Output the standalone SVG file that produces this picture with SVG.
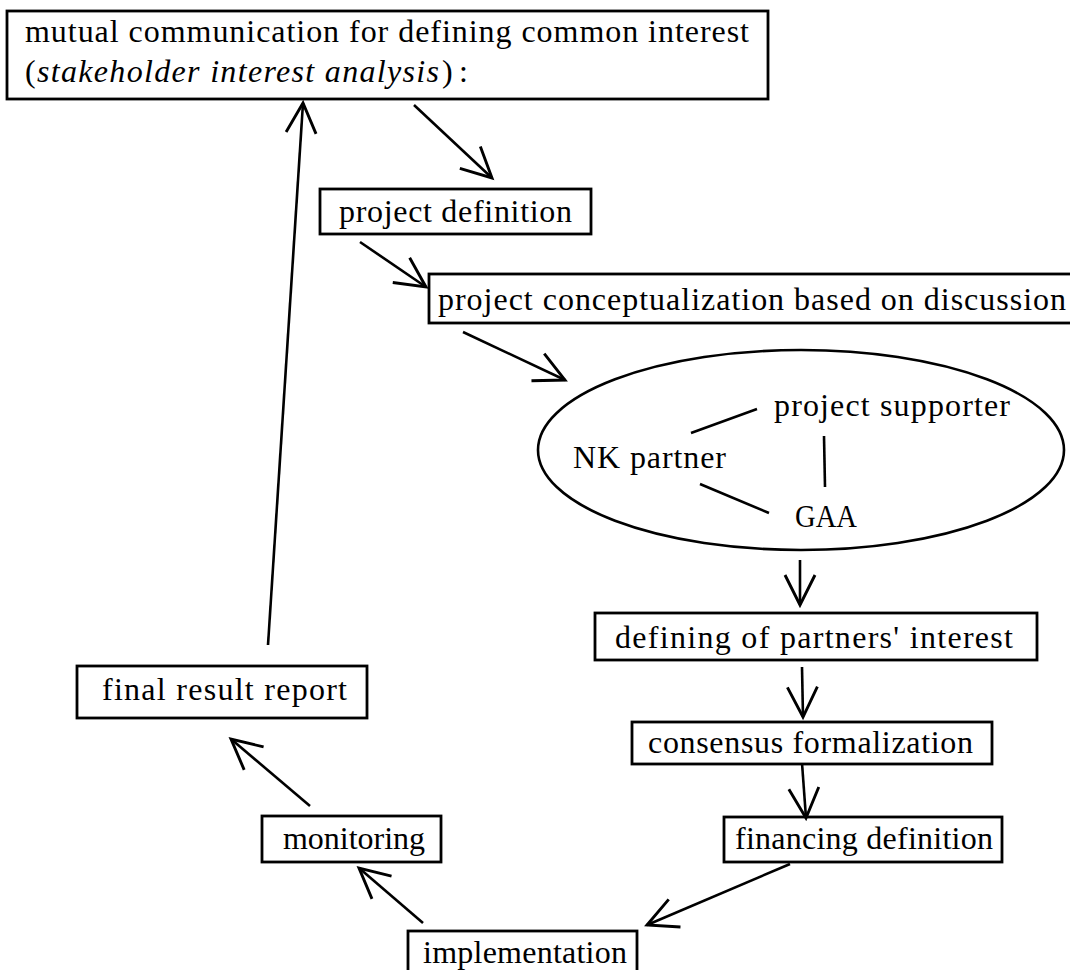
<svg xmlns="http://www.w3.org/2000/svg" width="1070" height="970" viewBox="0 0 1070 970">
<style>
.box{fill:#fff;stroke:#000;stroke-width:2.8}
.t{font-family:"Liberation Serif","Times New Roman",serif;font-size:32px;fill:#000}
.i{font-style:italic}
.c{fill:none;stroke:#000;stroke-width:2.6}
</style>
<defs>
<marker id="ah" markerUnits="userSpaceOnUse" markerWidth="40" markerHeight="40" viewBox="-32 -18 36 36" refX="0" refY="0" orient="auto">
<path d="M-27,-13.5 L0,0 L-27,13.5" fill="none" stroke="#000" stroke-width="2.6"/>
</marker>
</defs>
<rect width="1070" height="970" fill="#fff"/>
<g id="n-mutual">
<rect class="box" x="7" y="11" width="761" height="88"/>
<text class="t" x="25" y="42" textLength="724" lengthAdjust="spacing">mutual communication for defining common interest</text>
<text class="t" x="25" y="82">(</text>
<text class="t i" x="37" y="82" textLength="402" lengthAdjust="spacing">stakeholder interest analysis</text>
<text class="t" x="442" y="82">)</text>
<text class="t" x="459" y="82">:</text>
</g>
<g id="n-projdef">
<rect class="box" x="320" y="189" width="271" height="45"/>
<text class="t" x="339" y="222" textLength="233" lengthAdjust="spacing">project definition</text>
</g>
<g id="n-concept">
<rect class="box" x="429" y="274" width="660" height="49"/>
<text class="t" x="438" y="310" textLength="628" lengthAdjust="spacing">project conceptualization based on discussion</text>
</g>
<g id="n-stake">
<ellipse cx="801" cy="450" rx="263" ry="100" fill="#fff" stroke="#000" stroke-width="2.6"/>
<text class="t" x="774" y="416" textLength="236" lengthAdjust="spacing">project supporter</text>
<text class="t" x="573" y="468" textLength="153" lengthAdjust="spacing">NK partner</text>
<text class="t" x="795" y="527" textLength="62" lengthAdjust="spacingAndGlyphs">GAA</text>
<line class="c" x1="691" y1="433" x2="757" y2="409"/>
<line class="c" x1="824" y1="436" x2="825" y2="487"/>
<line class="c" x1="700" y1="484" x2="769" y2="513"/>
</g>
<g id="n-defining">
<rect class="box" x="595" y="613" width="442" height="47"/>
<text class="t" x="615" y="648" textLength="398" lengthAdjust="spacing">defining of partners' interest</text>
</g>
<g id="n-consensus">
<rect class="box" x="632" y="722" width="360" height="42"/>
<text class="t" x="648" y="753" textLength="325" lengthAdjust="spacing">consensus formalization</text>
</g>
<g id="n-financing">
<rect class="box" x="724" y="817" width="278" height="45"/>
<text class="t" x="735" y="849" textLength="258" lengthAdjust="spacing">financing definition</text>
</g>
<g id="n-impl">
<rect class="box" x="408" y="931" width="229" height="60"/>
<text class="t" x="423" y="963" textLength="204" lengthAdjust="spacing">implementation</text>
</g>
<g id="n-monitor">
<rect class="box" x="262" y="816" width="179" height="46"/>
<text class="t" x="283" y="849" textLength="142" lengthAdjust="spacing">monitoring</text>
</g>
<g id="n-final">
<rect class="box" x="77" y="666" width="290" height="52"/>
<text class="t" x="102" y="700" textLength="245" lengthAdjust="spacing">final result report</text>
</g>
<g id="connectors">
<line class="c" x1="414" y1="105" x2="492" y2="178" marker-end="url(#ah)"/>
<line class="c" x1="360" y1="242" x2="426" y2="287" marker-end="url(#ah)"/>
<line class="c" x1="463" y1="332" x2="565" y2="380" marker-end="url(#ah)"/>
<line class="c" x1="800" y1="560" x2="800" y2="605" marker-end="url(#ah)"/>
<line class="c" x1="802" y1="667" x2="803" y2="717" marker-end="url(#ah)"/>
<line class="c" x1="802" y1="763" x2="806" y2="818" marker-end="url(#ah)"/>
<line class="c" x1="790" y1="864" x2="647" y2="925" marker-end="url(#ah)"/>
<line class="c" x1="423" y1="923" x2="359" y2="868" marker-end="url(#ah)"/>
<line class="c" x1="310" y1="806" x2="231" y2="739" marker-end="url(#ah)"/>
<line class="c" x1="268" y1="645" x2="303" y2="103" marker-end="url(#ah)"/>
</g>
</svg>
